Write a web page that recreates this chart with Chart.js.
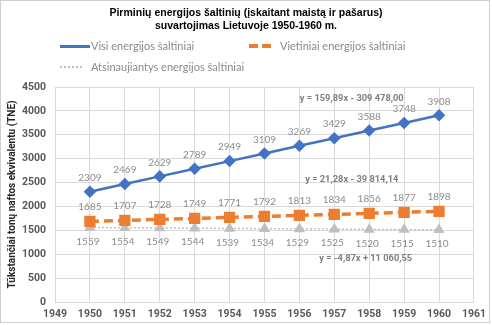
<!DOCTYPE html>
<html>
<head>
<meta charset="utf-8">
<script src="https://cdn.jsdelivr.net/npm/chart.js@4/dist/chart.umd.min.js"></script>
<style>
  body { margin: 0; background: #fff; }
  #wrap { position: relative; width: 492px; height: 325px; }
  #frame { position: absolute; left: 0; top: 0; width: 488px; height: 321px; border: 1px solid #d0d0d0; pointer-events: none; }
  #title { position: absolute; left: 0; top: 6px; width: 492px; text-align: center; font: bold 10.5px "Liberation Sans", Arial, sans-serif; line-height: 13px; color: #000; }
  .lg { position: absolute; font: 11px Lato, "Open Sans", sans-serif; color: #8a8a8a; line-height: 14px; white-space: nowrap; }
  .sw { position: absolute; }
</style>
</head>
<body>
<div id="wrap">
  <canvas id="c" width="492" height="325"></canvas>
  <div id="title">Pirminių energijos šaltinių (įskaitant maistą ir pašarus)<br>suvartojimas Lietuvoje 1950-1960 m.</div>
  <div class="sw" style="left:60px;top:45px;width:30px;height:3px;background:#4472C4"></div>
  <div class="lg" style="left:91px;top:39px">Visi energijos šaltiniai</div>
  <div class="sw" style="left:249px;top:44px;width:23px;height:4px;background:repeating-linear-gradient(90deg,#ED7D31 0 9px,transparent 9px 13px)"></div>
  <div class="lg" style="left:280px;top:39px">Vietiniai energijos šaltiniai</div>
  <div class="sw" style="left:60px;top:66px;width:22px;height:2px;background:repeating-linear-gradient(90deg,#BFBFBF 0 2px,transparent 2px 4px)"></div>
  <div class="lg" style="left:91px;top:60px">Atsinaujiantys energijos šaltiniai</div>
  <div id="frame"></div>
</div>
<script>
const years = [1950, 1951, 1952, 1953, 1954, 1955, 1956, 1957, 1958, 1959, 1960];
const visi = [2309, 2469, 2629, 2789, 2949, 3109, 3269, 3429, 3588, 3748, 3908];
const vietiniai = [1685, 1707, 1728, 1749, 1771, 1792, 1813, 1834, 1856, 1877, 1898];
const atsinaujiantys = [1559, 1554, 1549, 1544, 1539, 1534, 1529, 1525, 1520, 1515, 1510];
const equations = [
  { text: "y = 159,89x - 309 478,00", x: 1957.5, y: 4250 },
  { text: "y = 21,28x - 39 814,14", x: 1957.5, y: 2570 },
  { text: "y = -4,87x + 11 060,55", x: 1957.9, y: 900 },
];

const toPoints = (vals) => vals.map((v, i) => ({ x: years[i], y: v }));

// label offsets per dataset [dx, dy]
const labelOffsets = [[0, -14], [0, -15], [-2, 14]];

const labelPlugin = {
  id: "pointLabels",
  afterDatasetsDraw(chart) {
    const ctx = chart.ctx;
    ctx.save();
    ctx.font = "10px Lato, sans-serif";
    ctx.fillStyle = "#8c8c8c";
    ctx.textAlign = "center";
    ctx.textBaseline = "middle";
    chart.data.datasets.forEach((ds, i) => {
      const meta = chart.getDatasetMeta(i);
      meta.data.forEach((pt, j) => {
        ctx.fillText(String(ds.data[j].y), pt.x + labelOffsets[i][0], pt.y + labelOffsets[i][1]);
      });
    });
    ctx.font = "bold 9.3px Roboto, sans-serif";
    ctx.fillStyle = "#7f7f7f";
    const xs = chart.scales.x, ys = chart.scales.y;
    equations.forEach((e) => {
      ctx.fillText(e.text, xs.getPixelForValue(e.x), ys.getPixelForValue(e.y));
    });
    ctx.restore();
  },
};

const tickFont = { family: "Roboto", size: 10.5, weight: "bold" };

const ctx = document.getElementById("c").getContext("2d");
new Chart(ctx, {
  type: "line",
  data: {
    datasets: [
      {
        label: "Visi energijos šaltiniai",
        data: toPoints(visi),
        borderColor: "#4472C4",
        backgroundColor: "#4472C4",
        borderWidth: 2.5,
        pointStyle: "rectRot",
        pointRadius: 4.5,
      },
      {
        label: "Vietiniai energijos šaltiniai",
        data: toPoints(vietiniai),
        borderColor: "#ED7D31",
        backgroundColor: "#ED7D31",
        borderWidth: 3.5,
        borderDash: [9, 5],
        pointStyle: "rect",
        pointRadius: 5.5,
      },
      {
        label: "Atsinaujiantys energijos šaltiniai",
        data: toPoints(atsinaujiantys),
        borderColor: "#BFBFBF",
        backgroundColor: "#BFBFBF",
        borderWidth: 1.5,
        borderDash: [2, 2],
        pointStyle: "triangle",
        pointRadius: 5,
      },
    ],
  },
  options: {
    responsive: false,
    animation: false,
    layout: { padding: { left: 4, right: 14, top: 87, bottom: 2 } },
    plugins: {
      legend: { display: false },
      tooltip: { enabled: false },
    },
    scales: {
      x: {
        type: "linear",
        min: 1949,
        max: 1961,
        ticks: { stepSize: 1, color: "#595959", font: tickFont, padding: 6,
          callback: (v) => String(v) },
        grid: { color: "#d9d9d9", drawTicks: false },
        border: { color: "#d9d9d9" },
        afterFit: (s) => { s.height = 21; },
      },
      y: {
        min: 0,
        max: 4500,
        ticks: { stepSize: 500, color: "#595959", font: tickFont, padding: 9,
          callback: (v) => String(v) },
        grid: { color: "#d9d9d9", drawTicks: false },
        border: { display: false },
        title: {
          display: true,
          text: "Tūkstančiai tonų naftos ekvivalentu (TNE)",
          color: "#262626",
          font: { family: "Roboto", size: 10, weight: "bold" },
          padding: 2,
        },
        afterFit: (s) => { s.width = 51; },
      },
    },
  },
  plugins: [labelPlugin],
});
</script>
</body>
</html>
